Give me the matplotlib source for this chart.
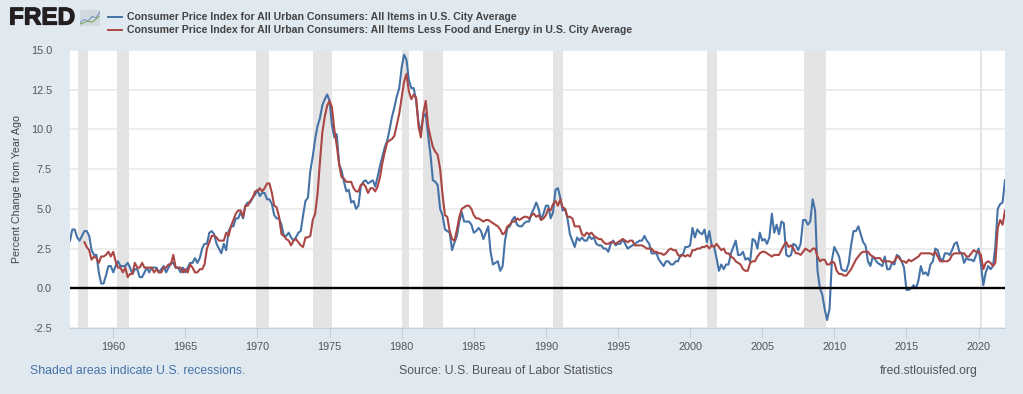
import pandas as pd
import matplotlib
matplotlib.use('Agg')
import matplotlib.pyplot as plt
import matplotlib.dates as mdates
import matplotlib.patheffects as pe

plt.rcParams['font.family'] = ['Liberation Sans', 'DejaVu Sans']

# year over year percent change, read every other month (Jan, Mar, May, Jul, Sep, Nov)
cpi_all = [
    3.0, 3.7, 3.7, 3.2, 3.0, 3.3, 3.6, 3.6, 3.3, 2.4, 2.1, 2.1,
    1.0, 0.3, 0.3, 0.8, 1.4, 1.4, 1.0, 1.4, 1.7, 1.4, 1.4, 1.4,
    1.6, 1.3, 0.9, 1.2, 1.2, 0.7, 0.7, 1.0, 1.3, 1.0, 1.3, 1.3,
    1.3, 1.0, 1.2, 1.4, 1.0, 1.3, 1.6, 1.6, 1.3, 1.3, 1.0, 1.3,
    1.0, 1.3, 1.6, 1.6, 1.9, 1.6, 1.9, 2.5, 2.8, 2.8, 3.5, 3.6,
    3.4, 2.8, 2.5, 2.2, 2.8, 2.4, 3.6, 3.9, 3.9, 4.4, 4.4, 4.8,
    4.4, 5.2, 5.4, 5.4, 5.7, 5.9, 6.2, 5.8, 6.0, 6.0, 5.6, 5.6,
    5.3, 4.6, 4.4, 4.4, 4.0, 3.3, 3.3, 3.5, 3.2, 3.0, 3.2, 3.5,
    3.6, 4.6, 5.5, 5.7, 7.4, 8.3, 9.4, 10.2, 10.7, 11.5, 11.9, 12.2,
    11.8, 10.3, 9.5, 9.7, 7.8, 7.4, 6.7, 6.1, 6.2, 5.4, 5.5, 5.0,
    5.2, 6.4, 6.7, 6.8, 6.6, 6.7, 6.8, 6.4, 7.0, 7.7, 8.3, 8.9,
    9.3, 10.0, 10.8, 11.4, 12.1, 12.6, 13.9, 14.7, 14.4, 13.1, 12.6, 12.6,
    11.8, 10.5, 9.8, 10.8, 11.0, 9.6, 8.4, 6.8, 6.7, 6.5, 5.0, 4.6,
    3.7, 3.6, 3.5, 2.4, 2.9, 3.3, 4.2, 4.8, 4.2, 4.2, 4.2, 4.0,
    3.5, 3.6, 3.8, 3.6, 3.1, 3.5, 3.9, 2.3, 1.5, 1.6, 1.7, 1.1,
    1.4, 3.0, 3.8, 3.9, 4.3, 4.5, 4.0, 3.9, 3.9, 4.1, 4.2, 4.2,
    4.7, 5.0, 5.4, 5.0, 4.3, 4.7, 5.2, 5.2, 4.4, 4.8, 6.2, 6.3,
    5.7, 4.9, 5.0, 4.4, 3.4, 3.0, 2.6, 3.2, 3.0, 3.2, 3.0, 3.0,
    3.3, 3.1, 3.2, 2.8, 2.7, 2.7, 2.5, 2.5, 2.3, 2.8, 3.0, 2.7,
    2.8, 2.8, 3.1, 2.8, 2.5, 2.6, 2.7, 2.8, 2.9, 3.0, 3.0, 3.3,
    3.0, 2.8, 2.2, 2.2, 2.2, 1.8, 1.6, 1.4, 1.7, 1.7, 1.5, 1.5,
    1.7, 1.7, 2.1, 2.1, 2.6, 2.6, 2.7, 3.8, 3.2, 3.7, 3.5, 3.4,
    3.7, 2.9, 3.6, 2.7, 2.6, 1.9, 1.1, 1.5, 1.2, 1.5, 1.5, 2.2,
    2.6, 3.0, 2.1, 2.1, 2.3, 1.8, 1.9, 1.7, 3.1, 3.0, 2.5, 3.5,
    3.0, 3.1, 2.8, 3.2, 4.7, 3.5, 4.0, 3.4, 4.2, 4.1, 2.1, 2.0,
    2.1, 2.8, 2.7, 2.4, 2.8, 4.3, 4.3, 4.0, 4.2, 5.6, 4.9, 1.1,
    0.0, -0.4, -1.3, -2.0, -1.3, 1.8, 2.6, 2.3, 2.0, 1.2, 1.1, 1.1,
    1.6, 2.7, 3.6, 3.6, 3.9, 3.4, 2.9, 2.7, 1.7, 1.4, 2.0, 1.8,
    1.6, 1.5, 1.4, 2.0, 1.2, 1.2, 1.6, 1.5, 2.1, 2.0, 1.7, 1.3,
    -0.1, -0.1, 0.0, 0.2, 0.0, 0.5, 1.4, 0.9, 1.0, 0.8, 1.5, 1.7,
    2.5, 2.4, 1.9, 1.7, 2.2, 2.2, 2.1, 2.4, 2.8, 2.9, 2.3, 2.2,
    1.6, 1.9, 1.8, 1.8, 1.7, 2.1, 2.5, 1.5, 0.2, 1.0, 1.4, 1.2,
    1.4, 2.6, 5.0, 5.3, 5.4, 6.8,
]

# core series starts in 1958
cpi_core = [
    2.9, 2.6, 2.4, 1.8, 2.0, 1.9, 1.6, 2.0, 2.0, 2.1, 2.3, 2.0,
    2.3, 1.7, 1.3, 1.3, 1.0, 1.3, 0.7, 0.9, 0.9, 1.6, 1.3, 1.3,
    1.6, 1.3, 1.3, 1.3, 1.3, 1.0, 1.2, 1.0, 1.0, 1.3, 1.3, 1.5,
    1.5, 2.1, 1.3, 1.3, 1.3, 1.0, 1.2, 1.0, 1.5, 1.3, 1.0, 1.0,
    1.2, 1.2, 1.5, 2.5, 2.9, 3.3, 3.3, 3.2, 3.0, 3.0, 3.0, 3.5,
    3.3, 3.9, 4.3, 4.7, 4.9, 4.9, 4.5, 5.2, 5.2, 5.5, 5.7, 6.1,
    6.1, 6.3, 6.1, 6.3, 6.6, 6.6, 6.0, 5.2, 5.1, 4.5, 3.4, 3.3,
    3.1, 3.0, 2.7, 3.0, 3.1, 2.9, 2.7, 2.6, 3.2, 3.2, 3.3, 4.3,
    4.7, 5.9, 7.9, 9.8, 10.8, 11.5, 11.8, 11.4, 10.0, 9.0, 7.8, 7.0,
    6.9, 6.7, 6.7, 6.7, 6.3, 6.1, 6.1, 6.5, 6.6, 6.4, 6.0, 6.3,
    6.3, 6.1, 6.4, 7.0, 7.9, 8.6, 9.2, 9.3, 9.4, 9.6, 10.3, 11.0,
    12.0, 13.0, 13.5, 12.4, 11.9, 12.2, 12.0, 10.2, 9.5, 11.0, 11.8, 10.2,
    9.5, 8.9, 8.6, 8.4, 7.5, 5.9, 4.6, 4.5, 3.6, 3.1, 3.0, 3.7,
    4.5, 5.0, 5.1, 5.2, 5.2, 5.0, 4.6, 4.4, 4.4, 4.3, 4.2, 4.3,
    4.3, 4.2, 4.1, 4.0, 3.9, 3.7, 3.4, 3.5, 3.9, 4.0, 4.2, 4.2,
    4.4, 4.3, 4.4, 4.5, 4.5, 4.4, 4.6, 4.7, 4.5, 4.6, 4.3, 4.4,
    4.6, 5.0, 4.9, 5.3, 5.5, 5.2, 5.6, 5.1, 5.0, 4.5, 4.5, 4.4,
    3.9, 3.9, 3.9, 3.4, 3.3, 3.5, 3.4, 3.5, 3.3, 3.2, 3.1, 3.1,
    2.9, 2.8, 2.8, 2.9, 2.9, 2.8, 2.9, 3.0, 3.1, 3.0, 2.9, 3.0,
    3.0, 2.7, 2.7, 2.7, 2.7, 2.6, 2.5, 2.5, 2.5, 2.3, 2.3, 2.2,
    2.2, 2.1, 2.2, 2.4, 2.5, 2.4, 2.4, 2.1, 2.0, 2.1, 2.0, 2.1,
    2.0, 2.4, 2.4, 2.5, 2.5, 2.6, 2.6, 2.7, 2.5, 2.7, 2.6, 2.8,
    2.6, 2.4, 2.5, 2.2, 2.2, 2.0, 1.9, 1.7, 1.6, 1.5, 1.2, 1.1,
    1.1, 1.6, 1.7, 1.7, 2.0, 2.2, 2.3, 2.3, 2.2, 2.1, 2.0, 2.1,
    2.1, 2.1, 2.4, 2.7, 2.9, 2.6, 2.7, 2.5, 2.2, 2.2, 2.1, 2.3,
    2.5, 2.4, 2.3, 2.5, 2.5, 2.0, 1.7, 1.8, 1.8, 1.5, 1.5, 1.7,
    1.6, 1.1, 0.9, 0.9, 0.8, 0.8, 1.0, 1.2, 1.5, 1.8, 2.0, 2.2,
    2.3, 2.3, 2.3, 2.1, 2.0, 1.9, 1.9, 1.9, 1.7, 1.7, 1.7, 1.7,
    1.6, 1.7, 2.0, 1.9, 1.7, 1.7, 1.6, 1.8, 1.7, 1.8, 1.9, 2.0,
    2.2, 2.2, 2.2, 2.2, 2.2, 2.1, 2.3, 2.0, 1.7, 1.7, 1.7, 1.7,
    1.8, 2.1, 2.2, 2.2, 2.2, 2.2, 2.2, 2.0, 2.0, 2.2, 2.4, 2.3,
    2.3, 2.1, 1.2, 1.6, 1.7, 1.6, 1.4, 1.6, 3.8, 4.3, 4.0, 4.9,
]

recessions = [
    ('1957-08-01', '1958-04-01'), ('1960-04-01', '1961-02-01'),
    ('1969-12-01', '1970-11-01'), ('1973-11-01', '1975-03-01'),
    ('1980-01-01', '1980-07-01'), ('1981-07-01', '1982-11-01'),
    ('1990-07-01', '1991-03-01'), ('2001-03-01', '2001-11-01'),
    ('2007-12-01', '2009-06-01'), ('2020-02-01', '2020-04-01'),
]

y_ticks = [-2.5, 0.0, 2.5, 5.0, 7.5, 10.0, 12.5, 15.0]

name_all = 'Consumer Price Index for All Urban Consumers: All Items in U.S. City Average'
name_core = 'Consumer Price Index for All Urban Consumers: All Items Less Food and Energy in U.S. City Average'

dates = pd.date_range('1957-01-01', '2021-11-01', freq='2MS')
dates_core = dates[dates >= '1958-01-01']

W, H = 1023, 394
BLUE = '#4572A7'
RED = '#AA4643'

fig = plt.figure(figsize=(W / 100, H / 100), dpi=100, facecolor='#E1E9F0')
ax = fig.add_axes([70 / W, 1 - 328 / H, 935 / W, 278 / H])

for start, end in recessions:
    ax.axvspan(pd.Timestamp(start), pd.Timestamp(end), color='#E4E4E4', lw=0, zorder=1)
ax.grid(axis='y', color='#EAEAEA', lw=1.2, zorder=0)
ax.set_axisbelow(True)

ax.plot(dates, cpi_all, color=BLUE, lw=1.5, zorder=3)
ax.plot(dates_core, cpi_core, color=RED, lw=1.5, zorder=4)
ax.axhline(0, color='black', lw=1.7, zorder=5)

ax.set_xlim(pd.Timestamp('1957-01-01'), pd.Timestamp('2021-11-01'))
ax.set_ylim(-2.5, 15)
ax.set_yticks(y_ticks)
ax.set_yticklabels(['%.1f' % v for v in y_ticks])
ax.xaxis.set_major_locator(mdates.YearLocator(5))
ax.xaxis.set_major_formatter(mdates.DateFormatter('%Y'))
ax.tick_params(axis='y', length=0, pad=13, labelsize=7.8, labelcolor='#555555')
ax.tick_params(axis='x', length=7, width=0.8, color='#C0D0E0', pad=3, labelsize=7.8, labelcolor='#555555')
for side in ['top', 'right', 'left']:
    ax.spines[side].set_visible(False)
ax.spines['bottom'].set_color('#C0D0E0')

fig.text(17 / W, 1 - 189 / H, 'Percent Change from Year Ago', rotation=90,
         ha='center', va='center', fontsize=7.7, color='#444444')

# header
logo = fig.text(9 / W, 1 - 18 / H, 'FRED', ha='left', va='center', fontsize=17.5,
                fontweight='bold', color='#231F20')
logo.set_path_effects([pe.withStroke(linewidth=0.9, foreground='#231F20')])
icon = fig.add_axes([80 / W, 1 - 26 / H, 20 / W, 16 / H], facecolor='#D0D8E0')
icon.plot([0, 1, 2, 3, 4, 5], [1, 2, 1.5, 3, 2.5, 4.5], color='#6C8EBF', lw=0.7)
icon.plot([0, 1, 2, 3, 4, 5], [0.6, 1, 1.5, 1.2, 2.2, 3.2], color='#7FA650', lw=0.7)
icon.set_xlim(0, 5)
icon.set_ylim(0, 5)
icon.set_xticks([])
icon.set_yticks([])
for s in icon.spines.values():
    s.set_visible(False)

for y, color, name in [(17, BLUE, name_all), (30, RED, name_core)]:
    fig.add_artist(plt.Line2D([108 / W, 122 / W], [1 - y / H, 1 - y / H], color=color, lw=1.4))
    fig.text(127 / W, 1 - y / H, name, ha='left', va='center', fontsize=7.55,
             fontweight='bold', color='#444444')

# footer
fig.text(30 / W, 1 - 371 / H, 'Shaded areas indicate U.S. recessions.', ha='left', va='center',
         fontsize=8.8, color=BLUE)
fig.text(506 / W, 1 - 371 / H, 'Source: U.S. Bureau of Labor Statistics', ha='center', va='center',
         fontsize=8.8, color='#555555')
fig.text(978 / W, 1 - 371 / H, 'fred.stlouisfed.org', ha='right', va='center',
         fontsize=8.8, color='#555555')

fig.savefig('out.png', dpi=100, facecolor=fig.get_facecolor())
